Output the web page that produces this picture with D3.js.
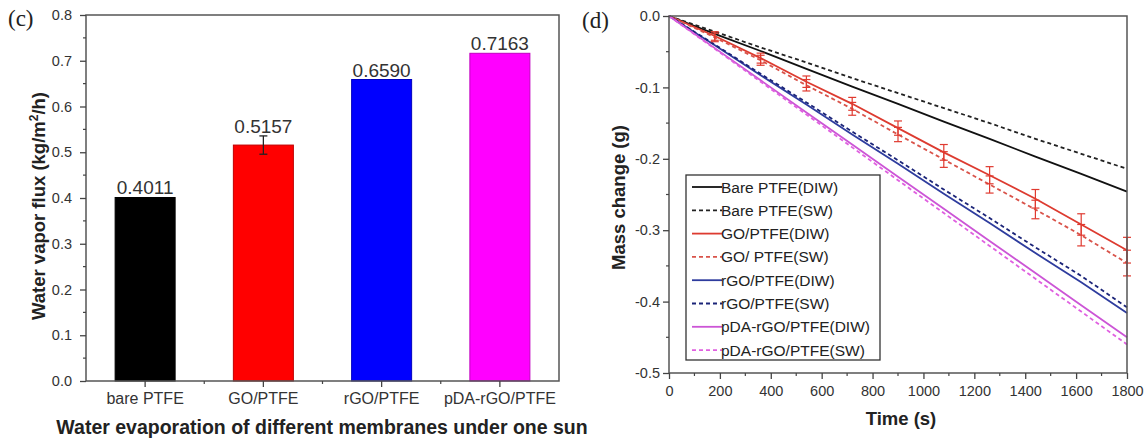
<!DOCTYPE html>
<html>
<head>
<meta charset="utf-8">
<script src="https://cdn.jsdelivr.net/npm/d3@7/dist/d3.min.js"></script>
<style>
  html, body { margin: 0; padding: 0; background: #fff; }
  svg { display: block; }
  text { font-family: Arial, "Liberation Sans", Helvetica, sans-serif; }
  text.panel { font-family: "Liberation Serif", "Times New Roman", "DejaVu Serif", serif; }
</style>
</head>
<body>
<svg id="fig" width="1146" height="442"></svg>
<script>
// ---------- Panel (c): evaporation flux per membrane ----------
const barCategories = ["bare PTFE", "GO/PTFE", "rGO/PTFE", "pDA-rGO/PTFE"];
const barValues = [0.4011, 0.5157, 0.6590, 0.7163];
const barErrors = [0, 0.02, 0, 0];
const barLabels = ["0.4011", "0.5157", "0.6590", "0.7163"];
const barColors = ["#000000", "#ff0000", "#0000ff", "#ff00ff"];
const fluxTicks = [0, 0.1, 0.2, 0.3, 0.4, 0.5, 0.6, 0.7, 0.8];

// ---------- Panel (d): mass change over time ----------
const timePoints = [0, 180, 360, 540, 720, 900, 1080, 1260, 1440, 1620, 1800];
const bareDIW = [0, -0.025, -0.049, -0.074, -0.099, -0.123, -0.148, -0.172, -0.197, -0.221, -0.246];
const bareSW  = [0, -0.022, -0.044, -0.065, -0.087, -0.108, -0.129, -0.150, -0.172, -0.193, -0.214];
const goDIW   = [0, -0.028, -0.059, -0.092, -0.123, -0.157, -0.191, -0.223, -0.256, -0.292, -0.328];
const goSW    = [0, -0.030, -0.062, -0.097, -0.130, -0.166, -0.201, -0.236, -0.271, -0.307, -0.346];
const goErr   = [0, 0.006, 0.007, 0.008, 0.009, 0.010, 0.011, 0.012, 0.013, 0.015, 0.018];
const rgoDIW  = [0, -0.041, -0.083, -0.124, -0.166, -0.207, -0.249, -0.290, -0.332, -0.373, -0.416];
const rgoSW   = [0, -0.040, -0.081, -0.121, -0.162, -0.202, -0.243, -0.283, -0.324, -0.364, -0.408];
const pdaDIW  = [0, -0.045, -0.090, -0.135, -0.180, -0.225, -0.270, -0.315, -0.360, -0.405, -0.450];
const pdaSW   = [0, -0.046, -0.092, -0.138, -0.184, -0.230, -0.276, -0.322, -0.368, -0.414, -0.460];
const seriesLabels = ["Bare PTFE(DIW)", "Bare PTFE(SW)", "GO/PTFE(DIW)", "GO/ PTFE(SW)",
                      "rGO/PTFE(DIW)", "rGO/PTFE(SW)", "pDA-rGO/PTFE(DIW)", "pDA-rGO/PTFE(SW)"];
const timeTicks = [0, 200, 400, 600, 800, 1000, 1200, 1400, 1600, 1800];
const massTicks = [0, -0.1, -0.2, -0.3, -0.4, -0.5];

const svg = d3.select("#fig");
const frameColor = "#555";
const tickColor = "#444";
const labelColor = "#333";

// ================= Panel (c) =================
(function () {
  const L = 86, R = 559, T = 15, B = 381;
  const x = d3.scaleBand().domain(barCategories).range([L, R]).paddingInner(0.4926).paddingOuter(0.2463);
  const y = d3.scaleLinear().domain([0, 0.8]).range([B, T]);
  const g = svg.append("g");

  // bars
  g.selectAll("rect.bar").data(barCategories).join("rect")
    .attr("class", "bar")
    .attr("x", d => x(d))
    .attr("y", (d, i) => y(barValues[i]))
    .attr("width", x.bandwidth())
    .attr("height", (d, i) => y(0) - y(barValues[i]))
    .attr("fill", (d, i) => barColors[i])
    .attr("stroke", (d, i) => d3.color(barColors[i]).darker(0.8))
    .attr("stroke-width", 1);

  // error bars
  barCategories.forEach((c, i) => {
    if (!barErrors[i]) return;
    const cx = x(c) + x.bandwidth() / 2;
    const y1 = y(barValues[i] + barErrors[i]), y2 = y(barValues[i] - barErrors[i]);
    g.append("line").attr("x1", cx).attr("x2", cx).attr("y1", y1).attr("y2", y2)
      .attr("stroke", "#222").attr("stroke-width", 1.3);
    [y1, y2].forEach(yy => g.append("line").attr("x1", cx - 4).attr("x2", cx + 4)
      .attr("y1", yy).attr("y2", yy).attr("stroke", "#222").attr("stroke-width", 1.3));
  });

  // value labels
  g.selectAll("text.val").data(barCategories).join("text")
    .attr("class", "val")
    .attr("x", d => x(d) + x.bandwidth() / 2)
    .attr("y", (d, i) => y(barValues[i] + barErrors[i]) - 3)
    .attr("text-anchor", "middle")
    .attr("font-size", 19)
    .attr("fill", "#333")
    .text((d, i) => barLabels[i]);

  // frame
  g.append("rect").attr("x", L).attr("y", T).attr("width", R - L).attr("height", B - T)
    .attr("fill", "none").attr("stroke", frameColor).attr("stroke-width", 1.5);

  // y axis
  const yAxis = g.append("g").attr("transform", `translate(${L},0)`)
    .call(d3.axisLeft(y).tickValues(fluxTicks).tickSize(6).tickPadding(8).tickFormat(d => d.toFixed(1)));
  yAxis.select(".domain").remove();
  yAxis.selectAll("line").attr("stroke", tickColor).attr("stroke-width", 1.3);
  yAxis.selectAll("text").attr("font-size", 14.5).attr("fill", labelColor);
  const minorY = d3.range(0.05, 0.8, 0.1);
  g.selectAll("line.ymin").data(minorY).join("line").attr("class", "ymin")
    .attr("x1", L - 3).attr("x2", L).attr("y1", d => y(d)).attr("y2", d => y(d))
    .attr("stroke", tickColor).attr("stroke-width", 1.2);

  // x axis
  const xAxis = g.append("g").attr("transform", `translate(0,${B})`)
    .call(d3.axisBottom(x).tickSize(6).tickPadding(6));
  xAxis.select(".domain").remove();
  xAxis.selectAll("line").attr("stroke", tickColor).attr("stroke-width", 1.3);
  xAxis.selectAll("text").attr("font-size", 16).attr("fill", labelColor);
  const bounds = barCategories.slice(1).map(c => x(c) - x.step() * x.paddingInner() / 2);
  g.selectAll("line.xmin").data(bounds).join("line").attr("class", "xmin")
    .attr("x1", d => d).attr("x2", d => d).attr("y1", B).attr("y2", B + 3)
    .attr("stroke", tickColor).attr("stroke-width", 1.2);

  // titles
  svg.append("text").attr("class", "panel").attr("x", 8).attr("y", 26)
    .attr("font-size", 23).attr("fill", "#222").text("(c)");
  const yt = svg.append("text").attr("transform", `translate(45,${(T + B) / 2 + 8}) rotate(-90)`)
    .attr("text-anchor", "middle").attr("font-size", 18.5).attr("font-weight", "bold").attr("fill", "#222");
  yt.append("tspan").text("Water vapor flux (kg/m");
  yt.append("tspan").attr("font-size", 12).attr("dy", -7).text("2");
  yt.append("tspan").attr("dy", 7).text("/h)");
  svg.append("text").attr("x", 322).attr("y", 434).attr("text-anchor", "middle")
    .attr("font-size", 19.5).attr("font-weight", "bold").attr("fill", "#222")
    .text("Water evaporation of different membranes under one sun");
})();

// ================= Panel (d) =================
(function () {
  const L = 669, R = 1127, T = 16, B = 373;
  const x = d3.scaleLinear().domain([0, 1800]).range([L, R]);
  const y = d3.scaleLinear().domain([-0.5, 0]).range([B, T]);
  const g = svg.append("g");

  const series = [
    { label: seriesLabels[0], values: bareDIW, color: "#111111", dash: null },
    { label: seriesLabels[1], values: bareSW,  color: "#222222", dash: "4,3" },
    { label: seriesLabels[2], values: goDIW,   color: "#dd3b30", dash: null, err: goErr },
    { label: seriesLabels[3], values: goSW,    color: "#d9534a", dash: "4,3", err: goErr },
    { label: seriesLabels[4], values: rgoDIW,  color: "#2e3c9e", dash: null },
    { label: seriesLabels[5], values: rgoSW,   color: "#1b2478", dash: "4,3" },
    { label: seriesLabels[6], values: pdaDIW,  color: "#cc55d6", dash: null },
    { label: seriesLabels[7], values: pdaSW,   color: "#e060e0", dash: "4,3" }
  ];

  const line = d3.line().x((d, i) => x(timePoints[i])).y(d => y(d));

  g.selectAll("path.series").data(series).join("path")
    .attr("class", "series")
    .attr("d", s => line(s.values))
    .attr("fill", "none")
    .attr("stroke", s => s.color)
    .attr("stroke-width", 1.8)
    .attr("stroke-dasharray", s => s.dash);

  // error bars for the GO series
  series.filter(s => s.err).forEach(s => {
    s.values.forEach((v, i) => {
      const e = s.err[i];
      if (!e) return;
      const cx = x(timePoints[i]);
      const y1 = y(v + e), y2 = y(v - e);
      g.append("line").attr("x1", cx).attr("x2", cx).attr("y1", y1).attr("y2", y2)
        .attr("stroke", "#e03a30").attr("stroke-width", 1.2);
      [y1, y2].forEach(yy => g.append("line").attr("x1", cx - 4).attr("x2", cx + 4)
        .attr("y1", yy).attr("y2", yy).attr("stroke", "#e03a30").attr("stroke-width", 1.2));
    });
  });

  // frame
  g.append("rect").attr("x", L).attr("y", T).attr("width", R - L).attr("height", B - T)
    .attr("fill", "none").attr("stroke", frameColor).attr("stroke-width", 1.5);

  // y axis
  const yAxis = g.append("g").attr("transform", `translate(${L},0)`)
    .call(d3.axisLeft(y).tickValues(massTicks).tickSize(6).tickPadding(3).tickFormat(d => Math.abs(d) < 1e-9 ? "0.0" : d.toFixed(1)));
  yAxis.select(".domain").remove();
  yAxis.selectAll("line").attr("stroke", tickColor).attr("stroke-width", 1.3);
  yAxis.selectAll("text").attr("font-size", 14.5).attr("fill", labelColor);
  const minorY = [-0.05, -0.15, -0.25, -0.35, -0.45];
  g.selectAll("line.ymin").data(minorY).join("line").attr("class", "ymin")
    .attr("x1", L - 3).attr("x2", L).attr("y1", d => y(d)).attr("y2", d => y(d))
    .attr("stroke", tickColor).attr("stroke-width", 1.2);

  // x axis
  const xAxis = g.append("g").attr("transform", `translate(0,${B})`)
    .call(d3.axisBottom(x).tickValues(timeTicks).tickSize(6).tickPadding(7).tickFormat(d3.format("d")));
  xAxis.select(".domain").remove();
  xAxis.selectAll("line").attr("stroke", tickColor).attr("stroke-width", 1.3);
  xAxis.selectAll("text").attr("font-size", 14.5).attr("fill", labelColor);
  const minorX = [100, 300, 500, 700, 900, 1100, 1300, 1500, 1700];
  g.selectAll("line.xmin").data(minorX).join("line").attr("class", "xmin")
    .attr("x1", d => x(d)).attr("x2", d => x(d)).attr("y1", B).attr("y2", B + 3)
    .attr("stroke", tickColor).attr("stroke-width", 1.2);

  // legend
  const lg = g.append("g");
  lg.append("rect").attr("x", 686).attr("y", 175).attr("width", 194).attr("height", 185)
    .attr("fill", "#fff").attr("stroke", "#333").attr("stroke-width", 1.3);
  const rowY = i => 187 + i * 23.3;
  lg.selectAll("line.key").data(series).join("line").attr("class", "key")
    .attr("x1", 692).attr("x2", 722)
    .attr("y1", (s, i) => rowY(i)).attr("y2", (s, i) => rowY(i))
    .attr("stroke", s => s.color).attr("stroke-width", 1.8)
    .attr("stroke-dasharray", s => s.dash);
  lg.selectAll("text.key").data(series).join("text").attr("class", "key")
    .attr("x", 721).attr("y", (s, i) => rowY(i)).attr("dy", "0.36em")
    .attr("font-size", 15.5).attr("fill", "#222")
    .text(s => s.label);

  // titles
  svg.append("text").attr("class", "panel").attr("x", 582).attr("y", 28)
    .attr("font-size", 23).attr("fill", "#222").text("(d)");
  svg.append("text").attr("transform", `translate(625,${(T + B) / 2 + 3}) rotate(-90)`)
    .attr("text-anchor", "middle").attr("font-size", 18.5).attr("font-weight", "bold").attr("fill", "#222")
    .text("Mass change (g)");
  svg.append("text").attr("x", 901).attr("y", 425).attr("text-anchor", "middle")
    .attr("font-size", 18.5).attr("font-weight", "bold").attr("fill", "#222")
    .text("Time (s)");
})();
</script>
</body>
</html>
